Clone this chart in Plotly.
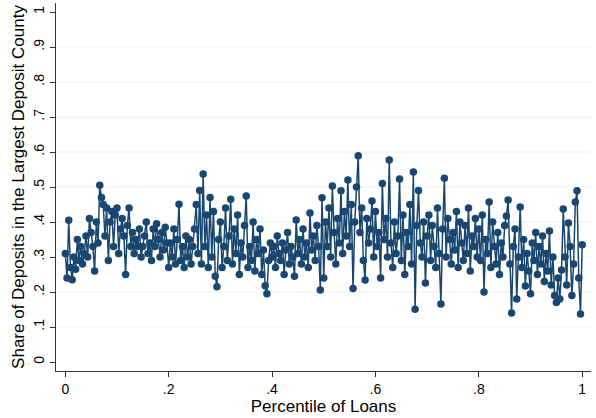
import numpy as np
import plotly.graph_objects as go

# Share of deposits held in the bank's largest deposit county, by loan percentile
share_part1 = [
    0.31, 0.24, 0.405, 0.27, 0.235, 0.30, 0.265, 0.35, 0.29, 0.33, 0.28, 0.31, 0.36, 0.30, 0.41,
    0.37, 0.33, 0.26, 0.40, 0.34, 0.505, 0.47, 0.45, 0.36, 0.44, 0.29, 0.40, 0.43, 0.33, 0.42,
    0.44, 0.31, 0.38, 0.41, 0.36, 0.25, 0.39, 0.44, 0.33, 0.37, 0.31, 0.35, 0.33, 0.38, 0.30,
    0.33, 0.36, 0.40, 0.31, 0.34, 0.29, 0.38, 0.33, 0.395, 0.35, 0.30, 0.37, 0.32, 0.385, 0.34,
    0.27, 0.34, 0.30, 0.38, 0.28, 0.35, 0.451, 0.29, 0.33, 0.27, 0.36, 0.30, 0.35, 0.28, 0.33,
]
share_part2 = [
    0.38, 0.45, 0.31, 0.49, 0.28, 0.537, 0.33, 0.42, 0.27, 0.47, 0.30, 0.43, 0.245, 0.215, 0.35,
    0.40, 0.27, 0.33, 0.44, 0.29, 0.36, 0.465, 0.28, 0.38, 0.31, 0.42, 0.25, 0.34, 0.30, 0.39,
    0.474, 0.27, 0.33, 0.29, 0.40, 0.26, 0.35, 0.31, 0.38, 0.25, 0.32, 0.218, 0.195, 0.29, 0.34,
    0.30, 0.33, 0.27, 0.36, 0.31, 0.29, 0.34, 0.25, 0.32, 0.37, 0.28, 0.33, 0.30, 0.245, 0.406,
    0.31, 0.35, 0.28, 0.38, 0.30, 0.34, 0.27, 0.426, 0.32, 0.36, 0.29, 0.39, 0.33, 0.206, 0.469,
]
share_part3 = [
    0.24, 0.40, 0.33, 0.44, 0.30, 0.503, 0.37, 0.28, 0.41, 0.34, 0.489, 0.31, 0.43, 0.36, 0.52,
    0.33, 0.45, 0.21, 0.40, 0.50, 0.589, 0.37, 0.44, 0.29, 0.234, 0.41, 0.34, 0.38, 0.46, 0.30,
    0.43, 0.33, 0.37, 0.24, 0.51, 0.35, 0.41, 0.30, 0.577, 0.34, 0.27, 0.40, 0.31, 0.36, 0.523,
    0.29, 0.42, 0.25, 0.37, 0.33, 0.45, 0.28, 0.543, 0.151, 0.39, 0.49, 0.34, 0.30, 0.40, 0.226,
    0.36, 0.42, 0.29, 0.39, 0.33, 0.27, 0.44, 0.31, 0.166, 0.38, 0.525, 0.30, 0.41, 0.35, 0.28,
]
share_part4 = [
    0.37, 0.32, 0.43, 0.27, 0.40, 0.34, 0.29, 0.39, 0.31, 0.44, 0.26, 0.36, 0.33, 0.41, 0.30,
    0.38, 0.29, 0.42, 0.20, 0.35, 0.31, 0.457, 0.27, 0.40, 0.33, 0.28, 0.37, 0.25, 0.34, 0.30,
    0.39, 0.417, 0.463, 0.28, 0.14, 0.33, 0.38, 0.18, 0.30, 0.443, 0.27, 0.35, 0.217, 0.31, 0.26,
    0.195, 0.34, 0.29, 0.37, 0.25, 0.33, 0.28, 0.36, 0.23, 0.31, 0.26, 0.374, 0.22, 0.30, 0.19,
    0.17, 0.24, 0.18, 0.263, 0.437, 0.30, 0.22, 0.397, 0.33, 0.19, 0.28, 0.457, 0.489, 0.24, 0.137, 0.335,
]
share = share_part1 + share_part2 + share_part3 + share_part4

# Evenly spaced loan percentiles from 0 to 1
percentile = np.linspace(0, 1, len(share))

x_ticks = [0, 0.2, 0.4, 0.6, 0.8, 1]
x_labels = ["0", ".2", ".4", ".6", ".8", "1"]
y_ticks = [0, 0.1, 0.2, 0.3, 0.4, 0.5, 0.6, 0.7, 0.8, 0.9, 1]
y_labels = ["0", ".1", ".2", ".3", ".4", ".5", ".6", ".7", ".8", ".9", "1"]
grid_levels = y_ticks[1:-1]

navy = "#1a476f"
font = dict(family="Liberation Sans, Arial, sans-serif", size=14, color="black")

fig = go.Figure(
    go.Scatter(
        x=percentile,
        y=share,
        mode="lines+markers",
        line=dict(color=navy, width=1.5),
        marker=dict(color=navy, size=7.5),
        showlegend=False,
    )
)

# Horizontal grid lines at interior y ticks only
for g in grid_levels:
    fig.add_shape(
        type="line", xref="paper", x0=0, x1=1, yref="y", y0=g, y1=g,
        line=dict(color="#eaf2f3", width=1.2), layer="below",
    )

fig.update_layout(
    width=596,
    height=418,
    margin=dict(l=56, r=5, t=3, b=47),
    paper_bgcolor="white",
    plot_bgcolor="white",
    font=font,
    xaxis=dict(
        range=[-0.018, 1.017],
        tickvals=x_ticks,
        ticktext=x_labels,
        ticks="outside",
        ticklen=5,
        tickcolor="#333333",
        showline=True,
        linecolor="#333333",
        linewidth=1.2,
        showgrid=False,
        zeroline=False,
        title=dict(text="Percentile of Loans", standoff=0),
    ),
    yaxis=dict(
        range=[-0.0257, 1.0257],
        tickvals=y_ticks,
        ticktext=y_labels,
        tickangle=-90,
        ticks="outside",
        ticklen=5,
        tickcolor="#333333",
        showline=True,
        linecolor="#333333",
        linewidth=1.2,
        showgrid=False,
        zeroline=False,
        title=dict(text="Share of Deposits in the Largest Deposit County", standoff=2),
    ),
)

fig.write_html("out.html")
